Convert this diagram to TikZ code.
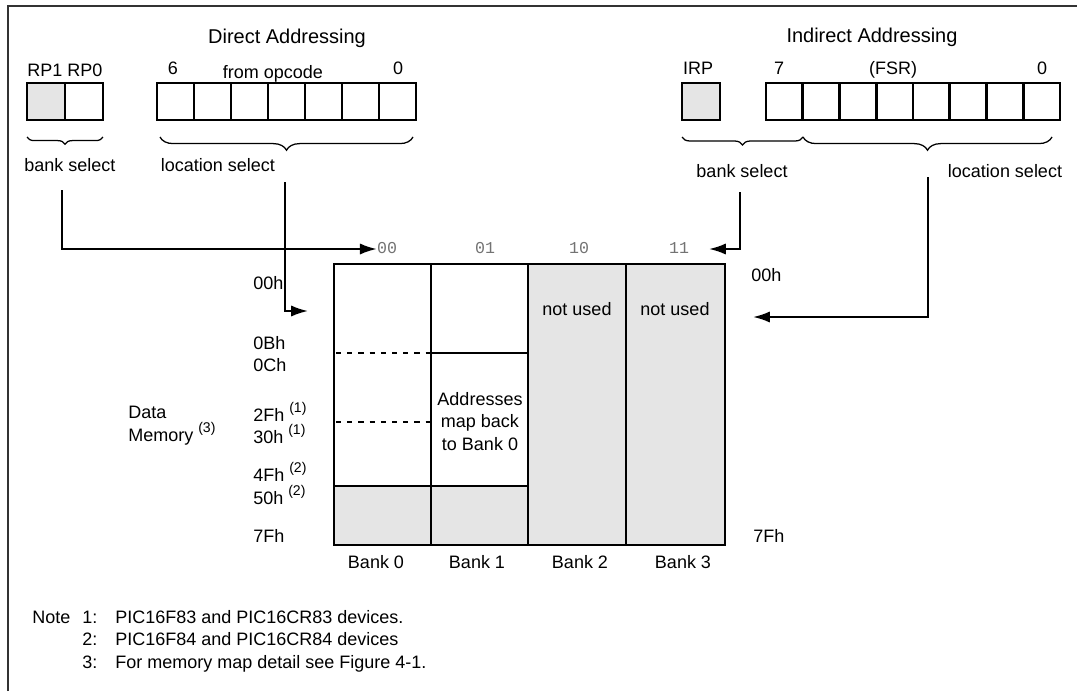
\documentclass[tikz,border=0pt]{standalone}
\usepackage{fontspec}
\setmainfont{Liberation Sans}
\newfontfamily\bitfont{Liberation Mono}
\usepackage{tikz}
\usetikzlibrary{
    arrows.meta,
    decorations.pathreplacing
}
\newcommand{\supnote}[1]{\raisebox{0.5em}{\fontsize{10}{11}\selectfont #1}}

\begin{document}
\begin{tikzpicture}[
      x=0.025cm, y=-0.025cm,
      txt/.style={inner sep=0pt, font=\fontsize{12.8}{16}\selectfont, text height=9.2pt, text depth=0pt},
      mtxt/.style={inner sep=0pt, font=\fontsize{12.8}{16}\selectfont},
      title/.style={txt, font=\fontsize{14.2}{17}\selectfont, text height=10.2pt},
      bits/.style={inner sep=0pt, font=\bitfont\fontsize{11.8}{14}\selectfont, text=black!55, text height=7pt, text depth=0pt},
      cell/.style={draw, line width=1.8pt},
      brc/.style={decorate, decoration={brace, mirror, amplitude=#1}, line width=0.9pt},
      arrow/.style={-{Latex[length=4.2mm, width=2.8mm]}, line width=1.5pt},
      wall/.style={line width=2pt},
      thinwall/.style={line width=1pt},
      unused/.style={fill=black!10}
    ]
    \useasboundingbox (0,0) rectangle (1077,691);
    \draw[line width=1.5pt, black!80] (8,691) -- (8,6) -- (1077,6);

    % direct addressing
    \node[title] (dtitle) at (287,36) {Direct Addressing};
    \node[txt] (rp) at (65,70) {RP1 RP0};
    \node[txt] (d6) at (173,68) {6};
    \node[txt] (dop) at (273,72) {from opcode};
    \node[txt] (d0) at (398,68) {0};
    \draw[cell, unused] (27,83) rectangle (65,120);
    \draw[cell] (65,83) rectangle (103,120);
    \foreach \i in {0,...,6}
      \draw[cell] (157+37*\i,83) rectangle ++(37,37);
    \draw[brc=0.18cm] (27,137) -- (103,137);
    \draw[brc=0.33cm] (160,137) -- (413,137);
    \node[txt] (dbank) at (70,165) {bank select};
    \node[txt] (dloc) at (218,165) {location select};

    % indirect addressing
    \node[title] (ititle) at (872,35) {Indirect Addressing};
    \node[txt] (irp) at (698,68) {IRP};
    \node[txt] (i7) at (779,68) {7};
    \node[txt] (fsr) at (893,68) {(FSR)};
    \node[txt] (i0) at (1042,68) {0};
    \draw[cell, unused] (682,83) rectangle (720,120);
    \foreach \i in {0,...,7}
      \draw[cell] (766+36.75*\i,83) rectangle ++(36.75,37);
    \draw[brc=0.2cm] (682,137) -- (803,137);
    \draw[brc=0.33cm] (803,137) -- (1052,137);
    \node[txt] (ibank) at (742,171) {bank select};
    \node[txt] (iloc) at (1005,171) {location select};

    % bank numbers
    \node[bits] (b00) at (387,249) {00};
    \node[bits] (b01) at (485,249) {01};
    \node[bits] (b10) at (579,249) {10};
    \node[bits] (b11) at (679,249) {11};

    % memory map
    \fill[black!10] (334,486) rectangle (528,545);
    \fill[black!10] (528,264) rectangle (725,545);
    \draw[thinwall] (334,486) -- (528,486);
    \draw[thinwall] (626,264) -- (626,545);
    \draw[line width=0.8pt, dash pattern=on 0.13cm off 0.15cm] (336,353) -- (431,353);
    \draw[line width=0.8pt, dash pattern=on 0.13cm off 0.15cm] (336,422) -- (431,422);
    \draw[wall] (431,264) -- (431,545);
    \draw[wall] (528,264) -- (528,545);
    \draw[wall] (431,353) -- (528,353);
    \draw[wall] (334,264) rectangle (725,545);

    \node[txt] (nu2) at (577,309) {not used};
    \node[txt] (nu3) at (675,309) {not used};
    \node[mtxt, align=center, anchor=north] (back) at (480,392) {Addresses\\map back\\to Bank 0};

    \node[txt, anchor=west] (a00) at (253,283) {00h};
    \node[txt, anchor=west] (a0b) at (253,343) {0Bh};
    \node[txt, anchor=west] (a0c) at (253,365) {0Ch};
    \node[txt, anchor=west] (a2f) at (253,415) {2Fh \supnote{(1)}};
    \node[txt, anchor=west] (a30) at (253,437) {30h \supnote{(1)}};
    \node[txt, anchor=west] (a4f) at (253,475) {4Fh \supnote{(2)}};
    \node[txt, anchor=west] (a50) at (253,498) {50h \supnote{(2)}};
    \node[txt, anchor=west] (a7f) at (253,536) {7Fh};
    \node[txt, anchor=west] (r00) at (751,275) {00h};
    \node[txt, anchor=west] (r7f) at (753,536) {7Fh};
    \node[mtxt, align=left, anchor=north west] (dmem) at (128,406) {Data\\Memory \supnote{(3)}};

    \node[txt] (bank0) at (376,562) {Bank 0};
    \node[txt] (bank1) at (477,562) {Bank 1};
    \node[txt] (bank2) at (580,562) {Bank 2};
    \node[txt] (bank3) at (683,562) {Bank 3};

    % selection paths
    \coordinate (dbsrc) at (62,190);
    \coordinate (dlsrc) at (285,182);
    \coordinate (dlend) at (308,311);
    \coordinate (ibsrc) at (740,192);
    \coordinate (ibend) at (709,249);
    \coordinate (ilsrc) at (928,177);
    \coordinate (ilend) at (753,317);
    \draw[arrow] (dbsrc) |- (b00.west);
    \draw[arrow] (dlsrc) |- (dlend);
    \draw[arrow] (ibsrc) |- (ibend);
    \draw[arrow] (ilsrc) |- (ilend);

    % notes
    \node[txt, anchor=west] (note) at (32,617) {Note};
    \node[txt, anchor=west] (n1) at (82,617) {1:};
    \node[txt, anchor=west] (t1) at (115,617) {PIC16F83 and PIC16CR83 devices.};
    \node[txt, anchor=west] (n2) at (82,639) {2:};
    \node[txt, anchor=west] (t2) at (115,639) {PIC16F84 and PIC16CR84 devices};
    \node[txt, anchor=west] (n3) at (82,662) {3:};
    \node[txt, anchor=west] (t3) at (115,662) {For memory map detail see Figure 4-1.};
  \end{tikzpicture}
\end{document}
